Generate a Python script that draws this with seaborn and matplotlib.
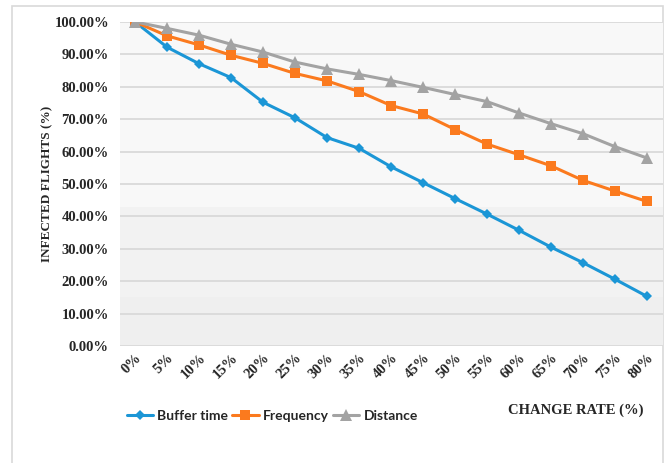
import numpy as np
import pandas as pd
import matplotlib
matplotlib.use("Agg")
import matplotlib.pyplot as plt
import seaborn as sns
from matplotlib.ticker import PercentFormatter

change_rate = ["0%", "5%", "10%", "15%", "20%", "25%", "30%", "35%", "40%",
               "45%", "50%", "55%", "60%", "65%", "70%", "75%", "80%"]
buffer_time = [100.0, 92.2, 87.1, 82.8, 75.2, 70.4, 64.3, 61.0, 55.3, 50.4,
               45.5, 40.7, 35.7, 30.5, 25.7, 20.6, 15.3]
frequency = [100.0, 95.7, 92.9, 89.7, 87.2, 84.1, 81.8, 78.5, 74.2, 71.6,
             66.8, 62.3, 59.0, 55.6, 51.1, 47.8, 44.6]
distance = [100.0, 98.0, 95.9, 93.1, 90.7, 87.6, 85.5, 83.8, 81.9, 79.8,
            77.6, 75.4, 71.9, 68.6, 65.5, 61.5, 58.0]
series_names = ["Buffer time", "Frequency", "Distance"]
y_ticks = [0, 10, 20, 30, 40, 50, 60, 70, 80, 90, 100]

rows = []
for name, vals in zip(series_names, [buffer_time, frequency, distance]):
    for i, (c, v) in enumerate(zip(change_rate, vals)):
        rows.append({"idx": i, "rate": c, "value": v, "series": name})
df = pd.DataFrame(rows)

sns.set_style("white")
serif = ["Liberation Serif", "DejaVu Serif"]
sans = ["Lato", "DejaVu Sans"]

fig = plt.figure(figsize=(6.65, 4.63), dpi=100)
ax = fig.add_axes([0.1805, 0.2527, 0.8165, 0.70])

# outer frame (extends past bottom edge as in the reference crop)
frame = plt.Rectangle((12 / 665, -0.1), (663 - 12) / 665, 1.1 - 6 / 463,
                      transform=fig.transFigure, fill=False,
                      edgecolor="#d9d9d9", linewidth=1.2, zorder=-10)
fig.patches.append(frame)

# plot area background bands
ax.set_facecolor("#f7f7f7")
ax.axhspan(0, 15, color="#efefef", zorder=0, lw=0)
ax.axhspan(15, 43, color="#f2f2f2", zorder=0, lw=0)
ax.axhspan(43, 100, color="#f8f8f8", zorder=0, lw=0)

palette = {"Buffer time": "#1b96d6", "Frequency": "#fb7a1e", "Distance": "#a3a3a3"}
markers = {"Buffer time": "D", "Frequency": "s", "Distance": "^"}
sizes = {"Buffer time": 5.5, "Frequency": 7.5, "Distance": 8}

for name in series_names:
    sub = df[df["series"] == name]
    sns.lineplot(data=sub, x="idx", y="value", ax=ax, color=palette[name],
                 marker=markers[name], markersize=sizes[name], markeredgewidth=0,
                 linewidth=2.2, label=name, zorder=3)

ax.set_ylim(0, 100)
ax.set_xlim(-0.47, 16.5)
ax.set_yticks(y_ticks)
ax.yaxis.set_major_formatter(PercentFormatter(decimals=2))
ax.set_xticks(range(len(change_rate)))
ax.set_xticklabels(change_rate)
ax.grid(axis="y", color="#d9d9d9", linewidth=1.3, zorder=1)
ax.grid(axis="x", visible=False)
for s in ax.spines.values():
    s.set_visible(False)
ax.tick_params(axis="both", length=0)
ax.tick_params(axis="y", pad=8)
ax.tick_params(axis="x", pad=4)

for lab in ax.get_yticklabels():
    lab.set_fontfamily(serif)
    lab.set_fontweight("bold")
    lab.set_fontsize(10.5)
for lab in ax.get_xticklabels():
    lab.set_fontfamily(serif)
    lab.set_fontweight("bold")
    lab.set_fontsize(10.5)
    lab.set_rotation(45)
    lab.set_ha("right")
    lab.set_rotation_mode("anchor")

ax.set_xlabel("")
ax.set_ylabel("INFECTED FLIGHTS (%)", fontfamily=serif, fontweight="bold",
              fontsize=9.5, labelpad=1)

fig.text(643 / 665, 1 - 410 / 463, "CHANGE RATE (%)", fontfamily=serif,
         fontweight="bold", fontsize=10.5, ha="right", va="center")

leg = ax.legend(loc="center left", bbox_to_anchor=(114 / 665, 1 - 416 / 463),
                bbox_transform=fig.transFigure, ncol=3, frameon=False,
                handlelength=1.9, columnspacing=0.3, handletextpad=0.3,
                prop={"family": sans, "weight": "bold", "size": 10})

fig.savefig("out.png", dpi=100)
